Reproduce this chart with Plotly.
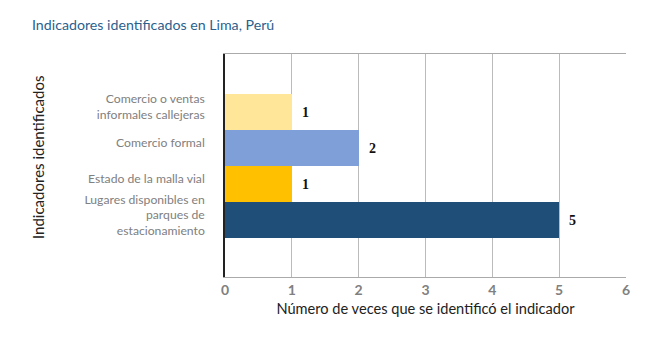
import plotly.graph_objects as go

categories = [
    "Comercio o ventas<br>informales callejeras",
    "Comercio formal",
    "Estado de la malla vial",
    "Lugares disponibles en<br>parques de<br>estacionamiento",
]
values = [1, 2, 1, 5]
colors = ["#FFE699", "#7F9FD9", "#FFC000", "#1F4E79"]
x_ticks = [0, 1, 2, 3, 4, 5, 6]

fig = go.Figure(go.Bar(
    x=values,
    y=categories,
    orientation="h",
    marker=dict(color=colors, line=dict(width=0)),
    text=[str(v) for v in values],
    textposition="outside",
    constraintext="none",
    textfont=dict(family="Liberation Serif", size=14, color="#111111"),
    texttemplate="\u00a0\u00a0<b>%{text}</b>",
    cliponaxis=False,
    width=1.0,
))

fig.update_layout(
    width=650, height=339,
    margin=dict(l=225, r=24, t=54, b=62),
    paper_bgcolor="white", plot_bgcolor="white",
    showlegend=False,
    bargap=0,
    font=dict(family="Lato", color="#444444"),
    title=dict(
        text="Indicadores identificados en Lima, Perú",
        x=32/650, xanchor="left", xref="container",
        y=1-25/339, yanchor="middle", yref="container",
        font=dict(family="Lato", size=14.2, color="#2B5F8E"),
    ),
    xaxis=dict(
        range=[0, 6],
        tickvals=x_ticks,
        ticktext=[str(t) for t in x_ticks],
        showgrid=True, gridcolor="#BBBBBB", gridwidth=1,
        showline=True, linecolor="#AAAAAA", linewidth=1, mirror=True,
        zeroline=False,
        ticks="",
        tickfont=dict(family="Lato", size=14, color="#808080", weight="bold"),
        title=dict(text="Número de veces que se identificó el indicador",
                   font=dict(family="Lato", size=14.6, color="#222222"), standoff=6),
    ),
    yaxis=dict(
        range=[3 + 1.58, -1.61],
        showline=True, linecolor="#222222", linewidth=1.5,
        showgrid=False, zeroline=False, ticks="",
        tickfont=dict(family="Lato", size=12.2, color="#808080"),
        ticklabelstandoff=16,
        ticklabelshift=5,
    ),
    annotations=[dict(
        text="Indicadores identificados",
        textangle=-90,
        x=0, xref="paper", xanchor="center",
        y=0, yref="paper", yanchor="middle",
        showarrow=False,
        font=dict(family="Lato", size=15, color="#222222"),
    )],
)
# convert pixel coords for annotation into paper coords
plot_w = 650 - 225 - 24
plot_h = 339 - 54 - 62
fig.layout.annotations[0].x = (38 - 225) / plot_w
fig.layout.annotations[0].y = (339 - 62 - 158) / plot_h

fig.write_html("out.html")
